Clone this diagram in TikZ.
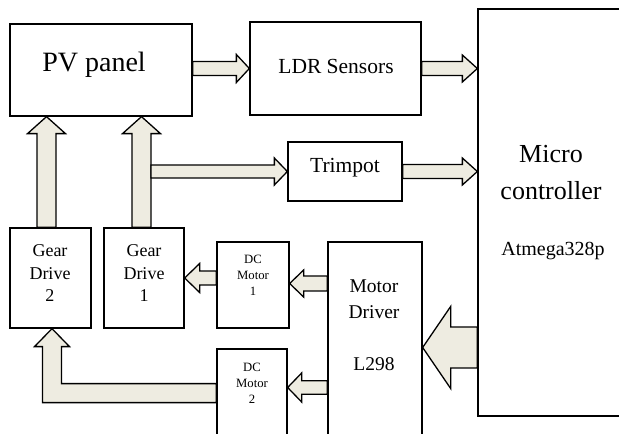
\documentclass[tikz,border=0pt]{standalone}
\usepackage{fontspec}
\setmainfont{Liberation Serif}
\usetikzlibrary{calc}
\definecolor{beige}{RGB}{238,236,225}
% block arrow: tail, tip, shaft half width, head half width, head length
\newcommand{\blockarrow}[5]{%
	\coordinate (ba-a) at #1;
	\coordinate (ba-b) at #2;
	\coordinate (ba-h) at ($(ba-b)!#5!(ba-a)$);
	\filldraw[arrowbody] ($(ba-a)!#3!90:(ba-b)$) -- ($(ba-h)!#3!-90:(ba-a)$) -- ($(ba-h)!#4!-90:(ba-a)$) -- (ba-b)
		-- ($(ba-h)!#4!90:(ba-a)$) -- ($(ba-h)!#3!90:(ba-a)$) -- ($(ba-a)!#3!-90:(ba-b)$) -- cycle;}
\begin{document}
\begin{tikzpicture}[x=1pt,y=1pt,line join=miter,
	box/.style={draw,line width=1.3pt,inner sep=0pt},
	arrowbody/.style={fill=beige,draw,line width=1.3pt},
	lbl/.style={anchor=base,align=center,inner sep=0pt}]
	\useasboundingbox (0,0) rectangle (619,434);
	% blocks
	\node[box,minimum width=182,minimum height=92] (pv) at (101,364) {};
	\node[box,minimum width=171,minimum height=93] (ldr) at (335.5,365.5) {};
	\node[box,minimum width=114,minimum height=59] (trim) at (345,262.5) {};
	\node[box,minimum width=162,minimum height=407] (micro) at (559,221.5) {};
	\node[box,minimum width=81,minimum height=100] (gd2) at (50.5,156) {};
	\node[box,minimum width=80,minimum height=100] (gd1) at (144,156) {};
	\node[box,minimum width=72,minimum height=86] (dc1) at (253,149) {};
	\node[box,minimum width=70,minimum height=91] (dc2) at (252,39.5) {};
	\node[box,minimum width=94,minimum height=198] (md) at (375,93) {};
	% texts (base = last line)
	\node[lbl,font=\fontsize{28}{34}\selectfont] (pvtext) at (94,362) {PV panel};
	\node[lbl,font=\fontsize{21.5}{26}\selectfont] (ldrtext) at (336,360) {LDR Sensors};
	\node[lbl,font=\fontsize{21.5}{26}\selectfont] (trimtext) at (345,261) {Trimpot};
	\node[lbl,font=\fontsize{26}{37}\selectfont] (microtext) at (551,234) {Micro\\controller};
	\node[lbl,font=\fontsize{20}{24}\selectfont] (atmtext) at (553,178) {Atmega328p};
	\node[lbl,font=\fontsize{18}{22.5}\selectfont] (gd2text) at (50,132) {Gear\\Drive\\2};
	\node[lbl,font=\fontsize{18}{22.5}\selectfont] (gd1text) at (144,132) {Gear\\Drive\\1};
	\node[lbl,font=\fontsize{12.7}{16}\selectfont] (dc1text) at (253,138) {DC\\Motor\\1};
	\node[lbl,font=\fontsize{12.7}{16}\selectfont] (dc2text) at (252,30) {DC\\Motor\\2};
	\node[lbl,font=\fontsize{19.5}{26}\selectfont] (mdtext) at (374,63) {Motor\\Driver\\[26pt]L298};
	% arrows
	\coordinate (up2) at ($(gd2.north)+(-4,0)$);
	\coordinate (up1) at ($(gd1.north)+(-2.5,0)$);
	\blockarrow{(pv.east |- ldr.west)}{(ldr.west)}{7pt}{14pt}{13pt}
	\blockarrow{(ldr.east)}{(micro.west |- ldr.east)}{7pt}{13.5pt}{15pt}
	\blockarrow{(trim.east)}{(micro.west |- trim.east)}{7pt}{13.5pt}{15pt}
	\blockarrow{(up2)}{(up2 |- pv.south)}{9.5pt}{19pt}{17pt}
	\blockarrow{(up1)}{(up1 |- pv.south)}{9.5pt}{19pt}{17pt}
	\blockarrow{($(up1 |- trim.west)+(9.5,0)$)}{(trim.west)}{6.5pt}{13.5pt}{13pt}
	\blockarrow{(dc1.west |- gd1.east)}{(gd1.east)}{7pt}{14.5pt}{15pt}
	\blockarrow{($(md.west |- dc1.east)+(0,1.5)$)}{($(dc1.east)+(0,1.5)$)}{7.5pt}{13.5pt}{14pt}
	\blockarrow{($(md.west |- dc2.east)+(0,7)$)}{($(dc2.east)+(0,7)$)}{6.7pt}{14.5pt}{14pt}
	\blockarrow{($(micro.west)+(0,-135)$)}{($(md.east |- micro.west)+(0,-135)$)}{20.5pt}{41pt}{28pt}
	% elbow arrow from DC motor 2 to gear drive 2
	\coordinate (el) at ($(gd2.south)+(1.5,0)$);
	\coordinate (corner) at ($(el)+(0,-64.5)$);
	\filldraw[arrowbody] ($(dc2.west |- corner)+(0,9.5)$) -- ($(corner)+(9.5,9.5)$) -- ($(el)+(9.5,-18)$)
		-- ($(el)+(17.5,-18)$) -- (el) -- ($(el)+(-17.5,-18)$) -- ($(el)+(-9.5,-18)$)
		-- ($(corner)+(-9.5,-9.5)$) -- ($(dc2.west |- corner)+(0,-9.5)$) -- cycle;
\end{tikzpicture}
\end{document}
